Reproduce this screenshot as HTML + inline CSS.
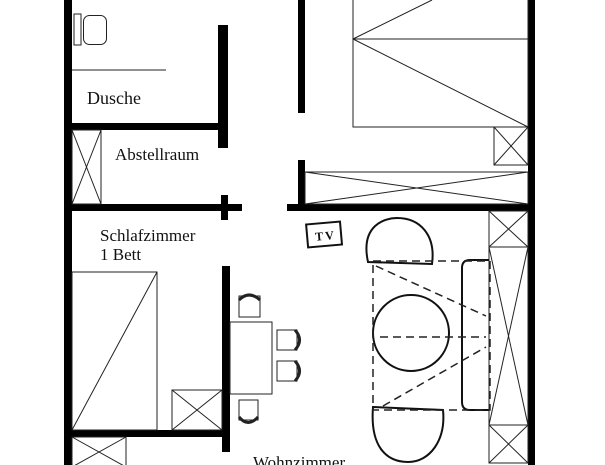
<!DOCTYPE html>
<html><head><meta charset="utf-8"><style>
html,body{margin:0;padding:0;background:#fff;width:605px;height:465px;overflow:hidden}
svg{display:block}
text{font-family:"Liberation Serif",serif;fill:#111}
</style></head><body>
<svg width="605" height="465" viewBox="0 0 605 465" xmlns="http://www.w3.org/2000/svg">
<g fill="#000">
 <rect x="64" y="0" width="8" height="465"/>
 <rect x="218" y="25" width="10" height="123"/>
 <rect x="64" y="123" width="164" height="7"/>
 <rect x="64" y="204" width="178" height="7"/>
 <rect x="221" y="195" width="7" height="25"/>
 <rect x="287" y="204" width="248" height="7"/>
 <rect x="298" y="0" width="7" height="113"/>
 <rect x="298" y="160" width="7" height="45"/>
 <rect x="528" y="0" width="7" height="465"/>
 <rect x="64" y="430" width="166" height="7"/>
 <rect x="222" y="266" width="8" height="186"/>
</g>
<g fill="none" stroke="#222" stroke-width="1">
 <rect x="74" y="14" width="7" height="31"/>
 <rect x="83.5" y="15.5" width="23" height="29" rx="6"/>
 <line x1="72" y1="70" x2="166" y2="70"/>
 <rect x="72" y="130" width="29" height="74"/>
 <line x1="72" y1="130" x2="101" y2="204"/><line x1="101" y1="130" x2="72" y2="204"/>
 <rect x="353" y="-2" width="175" height="129"/>
 <line x1="353" y1="39" x2="528" y2="39"/>
 <line x1="353" y1="39" x2="432" y2="0"/>
 <line x1="353" y1="39" x2="528" y2="127"/>
 <rect x="494" y="127" width="34" height="38"/>
 <line x1="494" y1="127" x2="528" y2="165"/><line x1="528" y1="127" x2="494" y2="165"/>
 <rect x="305" y="172" width="223" height="32"/>
 <line x1="305" y1="172" x2="528" y2="204"/><line x1="528" y1="172" x2="305" y2="204"/>
 <rect x="72" y="272" width="85" height="158"/>
 <line x1="72" y1="430" x2="157" y2="272"/>
 <rect x="172" y="390" width="50" height="40"/>
 <line x1="172" y1="390" x2="222" y2="430"/><line x1="222" y1="390" x2="172" y2="430"/>
 <rect x="72" y="437" width="54" height="30"/>
 <line x1="72" y1="437" x2="126" y2="467"/><line x1="126" y1="437" x2="72" y2="467"/>
 <rect x="230" y="322" width="42" height="72"/>
 <rect x="239" y="296" width="21" height="21"/>
 <path d="M239 300 Q249 290 260 300" stroke-width="3"/>
 <rect x="277" y="330" width="20" height="20"/>
 <path d="M295 330 Q304 340 295 350" stroke-width="3"/>
 <rect x="277" y="361" width="20" height="20"/>
 <path d="M295 361 Q304 371 295 381" stroke-width="3"/>
 <rect x="239" y="400" width="19" height="20"/>
 <path d="M239 417 Q248 428 258 417" stroke-width="3"/>
 <rect x="489" y="211" width="39" height="36"/>
 <line x1="489" y1="211" x2="528" y2="247"/><line x1="528" y1="211" x2="489" y2="247"/>
 <rect x="489" y="247" width="39" height="178"/>
 <line x1="489" y1="247" x2="528" y2="425"/><line x1="528" y1="247" x2="489" y2="425"/>
 <rect x="489" y="425" width="39" height="38"/>
 <line x1="489" y1="425" x2="528" y2="463"/><line x1="528" y1="425" x2="489" y2="463"/>
</g>
<g fill="none" stroke="#111" stroke-width="2">
 <path d="M368 262 C360 225 385 218 397 218 C420 218 436 235 432 264 Z"/>
 <circle cx="411" cy="333" r="38"/>
 <path d="M489 260 L470 260 Q462 260 462 268 L462 402 Q462 410 470 410 L489 410"/>
 <path d="M373 407 L443 410 C446 440 430 462 408 462 C385 462 370 445 373 407 Z"/>
 <g transform="rotate(-5 324 234)"><rect x="307" y="223" width="34" height="23"/></g>
</g>
<g fill="none" stroke="#222" stroke-width="1.5" stroke-dasharray="8 5">
 <rect x="373" y="261" width="117" height="149"/>
 <line x1="380" y1="337" x2="486" y2="337"/>
 <line x1="376" y1="266" x2="486" y2="316"/>
 <line x1="383" y1="406" x2="486" y2="347"/>
</g>
<text x="315" y="240" font-family="Liberation Sans,sans-serif" font-size="12" font-weight="bold" letter-spacing="2" transform="rotate(-5 324 234)">TV</text>
<text x="87" y="104" font-size="18">Dusche</text>
<text x="115" y="160" font-size="17">Abstellraum</text>
<text x="100" y="241" font-size="17">Schlafzimmer</text>
<text x="100" y="260" font-size="17">1 Bett</text>
<text x="253" y="468" font-size="17">Wohnzimmer</text>
</svg>
</body></html>
